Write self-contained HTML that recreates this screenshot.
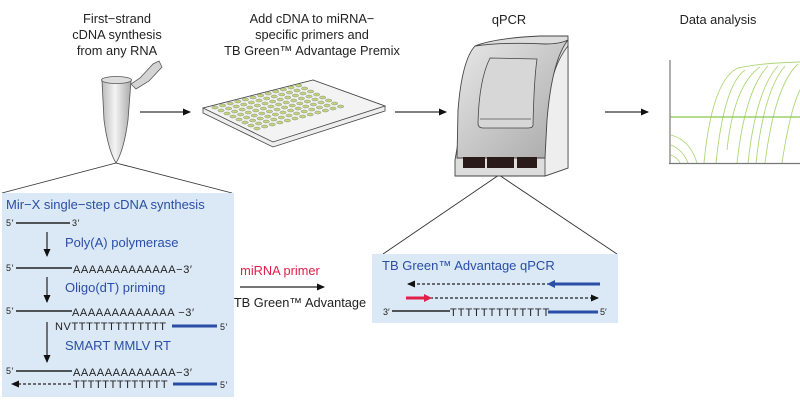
<!DOCTYPE html>
<html><head><meta charset="utf-8"><style>
body{margin:0;background:#fff;}
svg{display:block;font-family:"Liberation Sans",sans-serif;}
.t{font-size:12.8px;fill:#222;}
.b{font-size:13px;fill:#2a4ea6;}
.s{font-size:11px;fill:#222;letter-spacing:0.6px;}
</style></head><body>
<svg width="800" height="407" viewBox="0 0 800 407">
<defs>
<marker id="ah" markerWidth="8" markerHeight="8" refX="7" refY="4" orient="auto" markerUnits="userSpaceOnUse"><path d="M0,0.5 L8,4 L0,7.5 Z" fill="#111"/></marker>
<linearGradient id="tg" x1="0" x2="1"><stop offset="0" stop-color="#bbb"/><stop offset="0.45" stop-color="#f4f4f4"/><stop offset="1" stop-color="#aaa"/></linearGradient>
<linearGradient id="mg" x1="0" x2="1" y1="0" y2="1"><stop offset="0" stop-color="#e8e8e8"/><stop offset="1" stop-color="#a8a8a8"/></linearGradient>
</defs>
<g text-anchor="middle">
<text x="117" y="23" class="t">First−strand</text>
<text x="117" y="39" class="t">cDNA synthesis</text>
<text x="117" y="55" class="t">from any RNA</text>
<text x="312" y="23" class="t">Add cDNA to miRNA−</text>
<text x="312" y="39" class="t">specific primers and</text>
<text x="312" y="55" class="t">TB Green™ Advantage Premix</text>
<text x="509" y="24" class="t">qPCR</text>
<text x="718" y="24" class="t">Data analysis</text>
</g>
<g stroke="#333" stroke-width="1.2">
<line x1="140" y1="112" x2="190" y2="112" marker-end="url(#ah)"/>
<line x1="395" y1="112" x2="446" y2="112" marker-end="url(#ah)"/>
<line x1="605" y1="112" x2="648" y2="112" marker-end="url(#ah)"/>
</g>
<!-- tube -->
<path d="M102,81 L104,120 Q108,150 116,163 Q124,150 128,120 L131,81 Z" fill="url(#tg)" stroke="#555" stroke-width="0.8"/>
<ellipse cx="116.5" cy="80" rx="15" ry="3.5" fill="#ddd" stroke="#555" stroke-width="0.8"/>
<path d="M131,84 L136,89 L149,81 L162,67 L159,61 L153,64 L140,78 Z" fill="#d4d4d4" stroke="#555" stroke-width="0.8"/>
<!-- plate -->
<path d="M203,108 L313,80 L385,106 L385,111 L273,147 L203,113 Z" fill="#eee" stroke="#444" stroke-width="0.8"/>
<path d="M203,108 L313,80 L385,106 L273,142 Z" fill="#f3f3f3" stroke="#444" stroke-width="0.8"/>
<g id="wg" fill="#c3d67c" stroke="#777" stroke-width="0.4"></g>
<g stroke="#333" stroke-width="0.9">
<line x1="116" y1="163" x2="2" y2="193"/>
<line x1="116" y1="163" x2="232" y2="193"/>
<line x1="499" y1="175" x2="383" y2="254"/>
<line x1="499" y1="175" x2="617" y2="254"/>
</g>
<!-- machine -->
<path d="M475,46 Q495,38 540,36 L568,36 L568,168 L545,176 L455,176 L455,160 Z" fill="#ddd" stroke="#444" stroke-width="0.9"/>
<path d="M545,176 L545,130 Q548,70 568,46 L568,168 Z" fill="#eee" stroke="#444" stroke-width="0.8"/>
<path d="M475,46 Q500,42 545,44 Q560,44 568,40 Q552,60 547,120 L545,158 L457,158 L458,110 Q462,60 475,46 Z" fill="url(#mg)" stroke="#444" stroke-width="0.9"/>
<path d="M490,58 L537,59 Q534,80 533,125 Q533,128 528,128 L483,128 Q478,128 478,123 Q479,80 490,58 Z" fill="#d7d7d7" stroke="#444" stroke-width="0.8"/>
<line x1="480" y1="119" x2="531" y2="119" stroke="#555" stroke-width="0.8"/>
<rect x="463" y="157" width="22" height="11" fill="#2a1a1a"/>
<rect x="487" y="157" width="27" height="11" fill="#2a1a1a"/>
<rect x="517" y="157" width="20" height="11" fill="#2a1a1a"/>
<!-- graph -->
<g fill="none" stroke="#9fd060" stroke-width="0.9" opacity="0.85">
<path d="M704,163 Q712,80 738,68 Q760,63 800,62"/>
<path d="M716,163 Q724,85 745,70"/>
<path d="M727,150 Q734,85 760,67"/>
<path d="M737,163 Q745,90 768,66"/>
<path d="M748,163 Q756,90 778,66"/>
<path d="M756,163 Q764,90 785,66"/>
<path d="M765,163 Q775,85 798,64"/>
<path d="M782,163 Q790,110 800,90"/>
<path d="M671,135 Q690,140 697,163"/>
<path d="M671,145 Q683,150 688,163"/>
<path d="M671,155 Q678,158 680,163"/>
</g>
<line x1="670" y1="117" x2="800" y2="117" stroke="#8cc84b" stroke-width="1.2"/>
<line x1="670" y1="60" x2="670" y2="164" stroke="#777" stroke-width="1.2"/>
<line x1="669" y1="163.5" x2="800" y2="163.5" stroke="#777" stroke-width="1.2"/>
<!-- left box -->
<rect x="2" y="193" width="232" height="204" fill="#dbe8f5"/>
<text x="6" y="209" class="b">Mir−X single−step cDNA synthesis</text>
<g stroke="#222" stroke-width="1.4">
<line x1="16" y1="223" x2="70" y2="223"/>
<line x1="16" y1="268" x2="72" y2="268"/>
<line x1="16" y1="311" x2="72" y2="311"/>
<line x1="16" y1="371" x2="72" y2="371"/>
</g>
<g class="s">
<text x="6" y="226" font-size="9">5′</text><text x="72" y="226" font-size="9">3′</text>
<text x="6" y="271" font-size="9">5′</text><text x="73" y="273">AAAAAAAAAAAAA−3′</text>
<text x="6" y="314" font-size="9">5′</text><text x="72" y="316">AAAAAAAAAAAAA −3′</text>
<text x="55" y="330">NVTTTTTTTTTTTTT</text>
<text x="6" y="374" font-size="9">5′</text><text x="73" y="376">AAAAAAAAAAAAA−3′</text>
<text x="73" y="388">TTTTTTTTTTTTT</text>
<text x="220" y="330" font-size="9">5′</text>
<text x="220" y="388" font-size="9">5′</text>
</g>
<g stroke="#2a4ea6" stroke-width="3">
<line x1="172" y1="326" x2="217" y2="326"/>
<line x1="173" y1="384" x2="217" y2="384"/>
</g>
<g stroke="#222" stroke-width="1.2">
<line x1="47" y1="232" x2="47" y2="256" marker-end="url(#ah)"/>
<line x1="47" y1="277" x2="47" y2="302" marker-end="url(#ah)"/>
<line x1="47" y1="322" x2="47" y2="362" marker-end="url(#ah)"/>
<line x1="71" y1="384" x2="12" y2="384" stroke-dasharray="3,2" marker-end="url(#ah)"/>
</g>
<text x="65" y="247" class="b">Poly(A) polymerase</text>
<text x="65" y="292" class="b">Oligo(dT) priming</text>
<text x="65" y="350" class="b">SMART MMLV RT</text>
<!-- middle -->
<text x="280" y="275" font-size="12.8" fill="#e0204a" text-anchor="middle">miRNA primer</text>
<line x1="240" y1="287" x2="324" y2="287" stroke="#222" stroke-width="1.2" marker-end="url(#ah)"/>
<text x="300" y="307" class="t" text-anchor="middle">TB Green™ Advantage</text>
<!-- right box -->
<rect x="372" y="254" width="246" height="69" fill="#dbe8f5"/>
<text x="382" y="270" class="b">TB Green™ Advantage qPCR</text>
<g stroke="#222" stroke-width="1.2" stroke-dasharray="3,2">
<line x1="550" y1="284" x2="408" y2="284" marker-end="url(#ah)"/>
<line x1="430" y1="298" x2="598" y2="298" marker-end="url(#ah)"/>
</g>
<line x1="600" y1="284" x2="552" y2="284" stroke="#2a4ea6" stroke-width="3"/>
<path d="M547,284 L555,280 L555,288 Z" fill="#2a4ea6"/>
<line x1="406" y1="298" x2="425" y2="298" stroke="#e0204a" stroke-width="3"/>
<path d="M432,298 L424,294 L424,302 Z" fill="#e0204a"/>
<text x="383" y="315" font-size="9" fill="#222">3′</text>
<line x1="392" y1="311" x2="450" y2="311" stroke="#222" stroke-width="1.4"/>
<text x="450" y="316" class="s" style="letter-spacing:1px">TTTTTTTTTTTTT</text>
<line x1="548" y1="312" x2="598" y2="312" stroke="#2a4ea6" stroke-width="3"/>
<text x="600" y="315" font-size="9" fill="#222">5′</text>
</svg>
<script>
(function(){var g=document.getElementById('wg');var ns='http://www.w3.org/2000/svg';
var ox=215,oy=107.5;var cx=7.6,cy=-2.0,rx=6.0,ry=3.0;
for(var r=0;r<8;r++)for(var c=0;c<12;c++){var e=document.createElementNS(ns,'ellipse');
e.setAttribute('cx',ox+c*cx+r*rx);e.setAttribute('cy',oy+c*cy+r*ry);e.setAttribute('rx',3.2);e.setAttribute('ry',1.5);g.appendChild(e);}})();
</script>
</body></html>
